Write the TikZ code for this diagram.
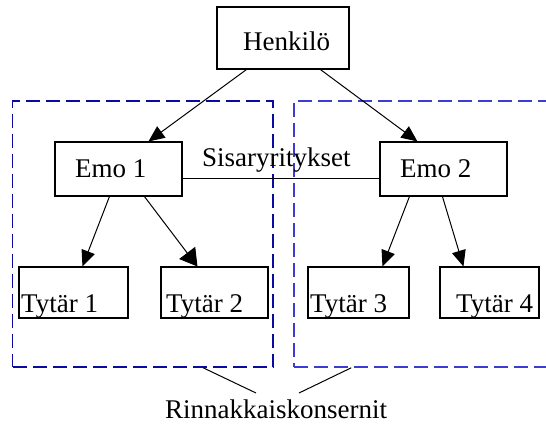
\documentclass[tikz,border=0pt]{standalone}
\usepackage{fontspec}
\setmainfont{Liberation Serif}
\usetikzlibrary{arrows.meta}
\begin{document}
\begin{tikzpicture}[x=1pt,y=-1pt,
  box/.style={draw, line width=1.1pt, inner sep=0pt, minimum height=#1},
  txt/.style={anchor=base west, inner sep=0pt, font=\fontsize{27}{30}\selectfont},
  grp/.style={draw=#1, line width=1.6pt, dash pattern=on 14pt off 6pt, inner sep=0pt},
  arr/.style={line width=1pt, -{Triangle[length=16pt,width=14pt]}},
  bigarr/.style={line width=1pt, -{Triangle[length=17pt,width=20pt]}},
  lnk/.style={line width=1pt}]
\useasboundingbox (0,0) rectangle (546,424);
\definecolor{darkgrp}{RGB}{10,10,160}
\definecolor{lightgrp}{RGB}{60,60,210}
% group boxes
\node[grp=darkgrp, minimum width=260.5pt, minimum height=266pt] (L) at (142.75,234) {};
\node[grp=lightgrp, minimum width=266pt, minimum height=266pt] (R) at (427,234) {};
% boxes
\node[box=62pt, minimum width=132pt, fill=white] (H) at (283,38) {};
\node[box=54pt, minimum width=127pt] (E1) at (118.5,169) {};
\node[box=54pt, minimum width=127pt] (E2) at (443.5,169) {};
\node[box=51pt, minimum width=109pt] (T1) at (73.5,292.5) {};
\node[box=51pt, minimum width=107pt] (T2) at (214.5,292.5) {};
\node[box=51pt, minimum width=101pt] (T3) at (358.5,292.5) {};
\node[box=51pt, minimum width=99pt] (T4) at (489.5,292.5) {};
% texts
\node[txt] (tH) at (243,50) {Henkilö};
\node[txt] (tE1) at (75,177) {Emo 1};
\node[txt] (tE2) at (400,177) {Emo 2};
\node[txt] (tS) at (202,166) {Sisaryritykset};
\node[txt] (tT1) at (21,312) {Tytär 1};
\node[txt] (tT2) at (166,312) {Tytär 2};
\node[txt] (tT3) at (310,312) {Tytär 3};
\node[txt] (tT4) at (456,312) {Tytär 4};
\node[txt] (tR) at (165,418) {Rinnakkaiskonsernit};
% arrows
\draw[arr] ([xshift=30pt]H.south west) -- ([xshift=94pt]E1.north west);
\draw[arr] ([xshift=104pt]H.south west) -- ([xshift=38pt]E2.north west);
\draw[arr] ([xshift=55pt]E1.south west) -- ([xshift=64pt]T1.north west);
\draw[bigarr] ([xshift=90pt]E1.south west) -- ([xshift=37pt]T2.north west);
\draw[arr] ([xshift=30pt]E2.south west) -- ([xshift=75pt]T3.north west);
\draw[arr] ([xshift=63pt]E2.south west) -- ([xshift=24pt]T4.north west);
% sibling link
\draw[lnk] ([yshift=-9pt]E1.east) -- ([yshift=-9pt]E2.west);
% links to label
\coordinate (rl) at (256,393);
\coordinate (rr) at (299,393);
\draw[lnk] ([xshift=191.5pt]L.south west) -- (rl);
\draw[lnk] ([xshift=58pt]R.south west) -- (rr);
\end{tikzpicture}
\end{document}
